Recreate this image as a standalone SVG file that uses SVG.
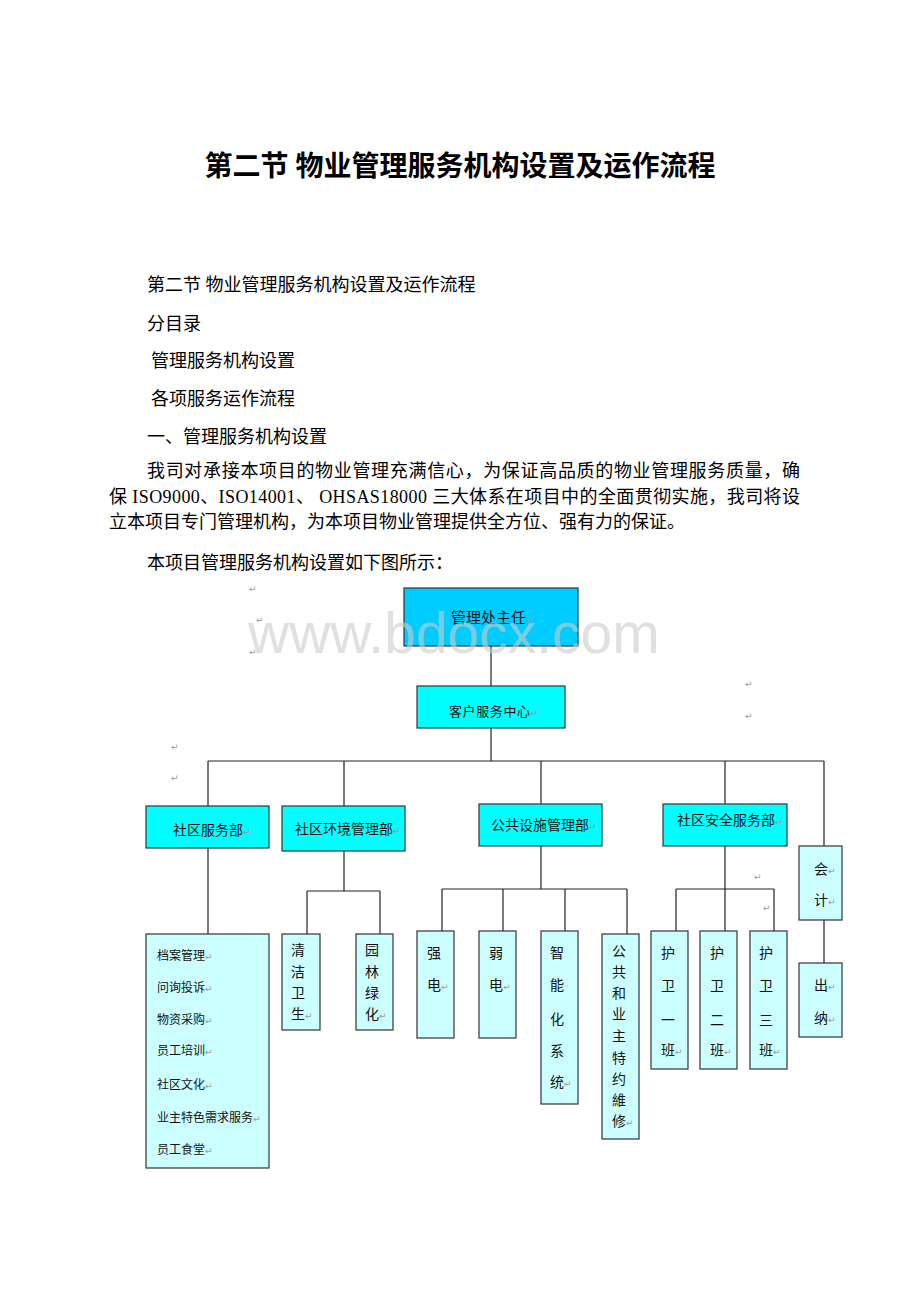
<svg xmlns="http://www.w3.org/2000/svg" width="920" height="1302" viewBox="0 0 920 1302">
<style>
.title{font-family:"Liberation Serif","Noto Sans CJK SC",serif;font-size:28px;font-weight:bold;fill:#000}
.body{font-family:"Liberation Serif","Noto Sans CJK SC",serif;font-size:18px;fill:#000}
.lbl{font-family:"Noto Sans CJK SC",sans-serif;fill:#111}
.l14{font-size:14px}
.l12{font-size:12px}
.rm{font-family:"DejaVu Sans",sans-serif;font-size:9px;fill:#9a9a9a}
.top{fill:#00ccff;stroke:#333;stroke-width:1.2}
.dept{fill:#00ffff;stroke:#333;stroke-width:1.2}
.leaf{fill:#ccffff;stroke:#333;stroke-width:1.2}
.conn line{stroke:#222;stroke-width:1.2}
.wm{font-family:"Liberation Sans",Arial,sans-serif;font-size:57px;fill:#cccccc;opacity:0.6}
</style>
<rect width="920" height="1302" fill="#fff"/>

<text class="title" x="460" y="176" text-anchor="middle">第二节 物业管理服务机构设置及运作流程</text>

<g id="intro">
<text class="body" x="147" y="291">第二节 物业管理服务机构设置及运作流程</text>
<text class="body" x="147" y="330">分目录</text>
<text class="body" x="151" y="367">管理服务机构设置</text>
<text class="body" x="151" y="405">各项服务运作流程</text>
<text class="body" x="147" y="443">一、管理服务机构设置</text>
<text class="body" x="147" y="477" textLength="653" lengthAdjust="spacing">我司对承接本项目的物业管理充满信心，为保证高品质的物业管理服务质量，确</text>
<text class="body" x="109" y="503" textLength="691" lengthAdjust="spacing">保 ISO9000、ISO14001、 OHSAS18000 三大体系在项目中的全面贯彻实施，我司将设</text>
<text class="body" x="109" y="528">立本项目专门管理机构，为本项目物业管理提供全方位、强有力的保证。</text>
<text class="body" x="147" y="569">本项目管理服务机构设置如下图所示：</text>
</g>

<g id="marks" class="rm">
<text x="249" y="592">↵</text>
<text x="256" y="623">↵</text>
<text x="249" y="655">↵</text>
<text x="745" y="687">↵</text>
<text x="745" y="719">↵</text>
<text x="171" y="750">↵</text>
<text x="171" y="781">↵</text>
<text x="754" y="880">↵</text>
<text x="763" y="911">↵</text>
</g>

<g id="connectors" class="conn">
<line x1="491" y1="646" x2="491" y2="686"/>
<line x1="491" y1="728" x2="491" y2="761"/>
<line x1="208" y1="761" x2="824" y2="761"/>
<line x1="208" y1="761" x2="208" y2="806"/>
<line x1="344" y1="761" x2="344" y2="806"/>
<line x1="541" y1="761" x2="541" y2="804"/>
<line x1="725" y1="761" x2="725" y2="804"/>
<line x1="824" y1="761" x2="824" y2="846"/>
<line x1="208" y1="848" x2="208" y2="934"/>
<line x1="344" y1="851" x2="344" y2="891"/>
<line x1="307" y1="891" x2="380" y2="891"/>
<line x1="307" y1="891" x2="307" y2="934"/>
<line x1="380" y1="891" x2="380" y2="934"/>
<line x1="541" y1="846" x2="541" y2="889"/>
<line x1="442" y1="889" x2="627" y2="889"/>
<line x1="442" y1="889" x2="442" y2="931"/>
<line x1="503" y1="889" x2="503" y2="931"/>
<line x1="565" y1="889" x2="565" y2="931"/>
<line x1="627" y1="889" x2="627" y2="934"/>
<line x1="725" y1="846" x2="725" y2="889"/>
<line x1="676" y1="889" x2="774" y2="889"/>
<line x1="676" y1="889" x2="676" y2="931"/>
<line x1="725" y1="889" x2="725" y2="931"/>
<line x1="774" y1="889" x2="774" y2="931"/>
<line x1="824" y1="920" x2="824" y2="963"/>
</g>

<g id="director">
<rect class="top" x="404" y="588" width="174" height="58"/>
<text class="lbl" x="451" y="623" font-size="15">管理处主任<tspan class="rm">↵</tspan></text>
</g>

<g id="service-center">
<rect class="dept" x="417" y="686" width="148" height="42"/>
<text class="lbl" x="449" y="716" font-size="13" letter-spacing="0.6">客户服务中心<tspan class="rm" letter-spacing="0">↵</tspan></text>
</g>

<g id="community-service">
<rect class="dept" x="146" y="806" width="123" height="42"/>
<text class="lbl l14" x="173" y="835">社区服务部<tspan class="rm">↵</tspan></text>
</g>

<g id="environment">
<rect class="dept" x="282" y="806" width="123" height="45"/>
<text class="lbl l14" x="295" y="834">社区环境管理部<tspan class="rm">↵</tspan></text>
</g>

<g id="facilities">
<rect class="dept" x="479" y="804" width="123" height="42"/>
<text class="lbl l14" x="491" y="830">公共设施管理部<tspan class="rm">↵</tspan></text>
</g>

<g id="security">
<rect class="dept" x="663" y="804" width="124" height="42"/>
<text class="lbl l14" x="677" y="825">社区安全服务部<tspan class="rm">↵</tspan></text>
</g>

<g id="accounting">
<rect class="leaf" x="799" y="846" width="43" height="74"/>
<text class="lbl l14" x="814" y="874">会<tspan class="rm">↵</tspan></text>
<text class="lbl l14" x="814" y="905">计<tspan class="rm">↵</tspan></text>
</g>

<g id="cashier">
<rect class="leaf" x="799" y="963" width="43" height="74"/>
<text class="lbl l14" x="814" y="990">出<tspan class="rm">↵</tspan></text>
<text class="lbl l14" x="814" y="1023">纳<tspan class="rm">↵</tspan></text>
</g>

<g id="service-items">
<rect class="leaf" x="146" y="934" width="123" height="234"/>
<text class="lbl l12" x="157" y="960">档案管理<tspan class="rm">↵</tspan></text>
<text class="lbl l12" x="157" y="992">问询投诉<tspan class="rm">↵</tspan></text>
<text class="lbl l12" x="157" y="1024">物资采购<tspan class="rm">↵</tspan></text>
<text class="lbl l12" x="157" y="1055">员工培训<tspan class="rm">↵</tspan></text>
<text class="lbl l12" x="157" y="1089">社区文化<tspan class="rm">↵</tspan></text>
<text class="lbl l12" x="157" y="1122">业主特色需求服务<tspan class="rm">↵</tspan></text>
<text class="lbl l12" x="157" y="1154">员工食堂<tspan class="rm">↵</tspan></text>
</g>

<g id="cleaning">
<rect class="leaf" x="282" y="934" width="38" height="96"/>
<text class="lbl l14" x="291" y="955">清</text>
<text class="lbl l14" x="291" y="977">洁</text>
<text class="lbl l14" x="291" y="998">卫</text>
<text class="lbl l14" x="291" y="1019">生<tspan class="rm">↵</tspan></text>
</g>

<g id="greening">
<rect class="leaf" x="356" y="934" width="37" height="96"/>
<text class="lbl l14" x="365" y="955">园</text>
<text class="lbl l14" x="365" y="977">林</text>
<text class="lbl l14" x="365" y="998">绿</text>
<text class="lbl l14" x="365" y="1019">化<tspan class="rm">↵</tspan></text>
</g>

<g id="strong-power">
<rect class="leaf" x="417" y="931" width="37" height="107"/>
<text class="lbl l14" x="427" y="958">强</text>
<text class="lbl l14" x="427" y="990">电<tspan class="rm">↵</tspan></text>
</g>

<g id="weak-power">
<rect class="leaf" x="479" y="931" width="37" height="107"/>
<text class="lbl l14" x="489" y="958">弱</text>
<text class="lbl l14" x="489" y="990">电<tspan class="rm">↵</tspan></text>
</g>

<g id="smart-system">
<rect class="leaf" x="541" y="931" width="37" height="173"/>
<text class="lbl l14" x="550" y="958">智</text>
<text class="lbl l14" x="550" y="990">能</text>
<text class="lbl l14" x="550" y="1024">化</text>
<text class="lbl l14" x="550" y="1056">系</text>
<text class="lbl l14" x="550" y="1087">统<tspan class="rm">↵</tspan></text>
</g>

<g id="special-repair">
<rect class="leaf" x="602" y="934" width="37" height="205"/>
<text class="lbl l14" x="612" y="956">公</text>
<text class="lbl l14" x="612" y="977">共</text>
<text class="lbl l14" x="612" y="998">和</text>
<text class="lbl l14" x="612" y="1019">业</text>
<text class="lbl l14" x="612" y="1041">主</text>
<text class="lbl l14" x="612" y="1063">特</text>
<text class="lbl l14" x="612" y="1084">约</text>
<text class="lbl l14" x="612" y="1105">維</text>
<text class="lbl l14" x="612" y="1126">修<tspan class="rm">↵</tspan></text>
</g>

<g id="guard-1">
<rect class="leaf" x="651" y="931" width="37" height="138"/>
<text class="lbl l14" x="661" y="958">护</text>
<text class="lbl l14" x="661" y="991">卫</text>
<text class="lbl l14" x="661" y="1025">一</text>
<text class="lbl l14" x="661" y="1055">班<tspan class="rm">↵</tspan></text>
</g>

<g id="guard-2">
<rect class="leaf" x="700" y="931" width="37" height="138"/>
<text class="lbl l14" x="710" y="958">护</text>
<text class="lbl l14" x="710" y="991">卫</text>
<text class="lbl l14" x="710" y="1025">二</text>
<text class="lbl l14" x="710" y="1055">班<tspan class="rm">↵</tspan></text>
</g>

<g id="guard-3">
<rect class="leaf" x="750" y="931" width="37" height="138"/>
<text class="lbl l14" x="759" y="958">护</text>
<text class="lbl l14" x="759" y="991">卫</text>
<text class="lbl l14" x="759" y="1025">三</text>
<text class="lbl l14" x="759" y="1055">班<tspan class="rm">↵</tspan></text>
</g>

<text class="wm" x="248" y="653">www.bdocx.com</text>
</svg>
